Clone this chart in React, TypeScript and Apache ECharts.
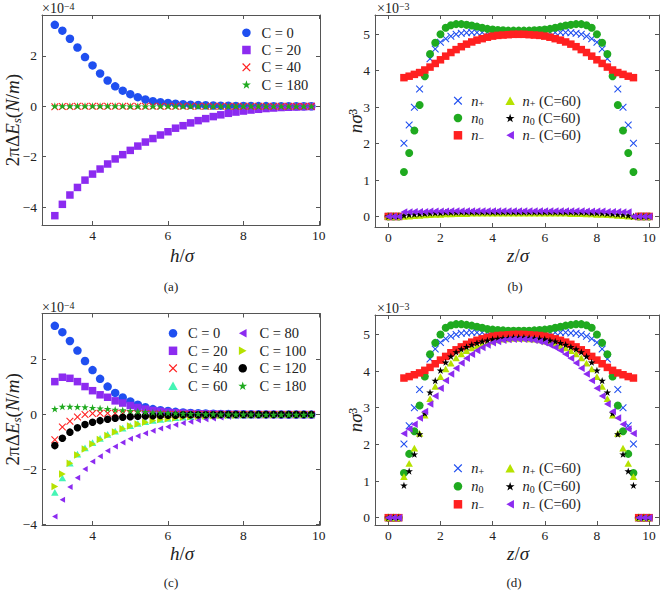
import React, { useEffect, useRef } from 'react';
import * as echarts from 'echarts';

// ---------- data ----------
const hVals = [3.0,3.2,3.4,3.6,3.8,4.0,4.2,4.4,4.6,4.8,5.0,5.2,5.4,5.6,5.8,6.0,6.2,6.4,6.6,6.8,7.0,7.2,7.4,7.6,7.8,8.0,8.2,8.4,8.6,8.8,9.0,9.2,9.4,9.6,9.8];

// panel (a) and (c), units of 1e-4 N/m
const eC0 = [3.23,3.00,2.68,2.33,1.95,1.62,1.30,1.02,0.79,0.62,0.48,0.36,0.27,0.20,0.16,0.13,0.10,0.08,0.06,0.05,0.04,0.03,0.025,0.02,0.015,0.012,0.01,0.008,0.006,0.005,0.004,0.003,0.002,0.001,0];
const eC20a = [-4.34,-3.89,-3.52,-3.22,-2.93,-2.69,-2.49,-2.29,-2.09,-1.92,-1.75,-1.58,-1.42,-1.28,-1.14,-1.01,-0.87,-0.77,-0.66,-0.57,-0.49,-0.41,-0.34,-0.28,-0.23,-0.19,-0.15,-0.12,-0.09,-0.07,-0.05,-0.04,-0.03,-0.02,-0.01];
const eC40a = [-0.02,-0.01,-0.01,0,0,0,0,0,0,0,0,0,0,0,0,0,0,0,0,0,0,0,0,0,0,0,0,0,0,0,0,0,0,0,0];
const eC180a = [0.01,0.01,0.01,0.01,0.01,0.01,0.01,0.01,0.01,0.01,0,0,0,0,0,0,0,0,0,0,0,0,0,0,0,0,0,0,0,0,0,0,0,0,0];

const eC20c = [1.20,1.36,1.32,1.20,1.02,0.87,0.72,0.63,0.50,0.42,0.33,0.26,0.20,0.15,0.12,0.09,0.07,0.05,0.04,0.03,0.025,0.02,0.015,0.01,0.008,0.006,0.005,0.004,0.003,0.002,0.002,0.001,0.001,0,0];
const eC40c = [-0.92,-0.45,-0.24,-0.09,0.00,0.04,0.05,0.05,0.05,0.04,0.04,0.03,0.03,0.02,0.02,0.01,0.01,0.01,0.01,0.01,0,0,0,0,0,0,0,0,0,0,0,0,0,0,0];
const eC60c = [-2.83,-2.30,-1.77,-1.44,-1.21,-1.02,-0.87,-0.72,-0.60,-0.49,-0.40,-0.32,-0.26,-0.21,-0.17,-0.14,-0.11,-0.09,-0.07,-0.05,-0.04,-0.03,-0.02,-0.02,-0.01,-0.01,-0.01,-0.005,-0.005,0,0,0,0,0,0];
const eC80c = [-3.71,-3.10,-2.64,-2.30,-1.98,-1.71,-1.52,-1.32,-1.16,-1.02,-0.88,-0.78,-0.68,-0.59,-0.51,-0.44,-0.37,-0.31,-0.26,-0.21,-0.17,-0.14,-0.11,-0.08,-0.06,-0.05,-0.04,-0.03,-0.02,-0.02,-0.01,-0.01,-0.01,-0.005,0];
const eC100c = [-2.62,-2.16,-1.77,-1.47,-1.25,-1.07,-0.91,-0.76,-0.63,-0.52,-0.42,-0.34,-0.28,-0.22,-0.18,-0.15,-0.12,-0.10,-0.08,-0.06,-0.05,-0.04,-0.03,-0.02,-0.02,-0.01,-0.01,-0.01,-0.005,-0.005,0,0,0,0,0];
const eC120c = [-1.13,-0.86,-0.64,-0.48,-0.36,-0.28,-0.22,-0.17,-0.13,-0.10,-0.08,-0.06,-0.05,-0.04,-0.03,-0.02,-0.02,-0.01,-0.01,-0.01,-0.005,-0.005,0,0,0,0,0,0,0,0,0,0,0,0,0];
const eC180c = [0.21,0.29,0.29,0.28,0.27,0.25,0.23,0.21,0.18,0.16,0.14,0.12,0.10,0.08,0.07,0.06,0.05,0.04,0.03,0.03,0.02,0.02,0.01,0.01,0.01,0.005,0.005,0,0,0,0,0,0,0,0];

// panel (b) and (d), units of 1e-3
const zVals = [0,0.2,0.4,0.6,0.8,1,1.2,1.4,1.6,1.8,2,2.2,2.4,2.6,2.8,3,3.2,3.4,3.6,3.8,4,4.2,4.4,4.6,4.8,5,5.2,5.4,5.6,5.8,6,6.2,6.4,6.6,6.8,7,7.2,7.4,7.6,7.8,8,8.2,8.4,8.6,8.8,9,9.2,9.4,9.6,9.8,10];

const nPlus = [0,0,0,2.01,2.51,3.00,3.50,3.95,4.33,4.60,4.78,4.88,4.95,5.00,5.03,5.04,5.05,5.05,5.05,5.05,5.05,5.05,5.05,5.05,5.05,5.05,5.05,5.05,5.05,5.05,5.05,5.05,5.05,5.05,5.05,5.04,5.03,5.00,4.95,4.88,4.78,4.60,4.33,3.95,3.50,3.00,2.51,2.01,0,0,0];
const nZero = [0,0,0,1.22,1.74,2.36,3.06,3.85,4.46,4.77,5.00,5.18,5.25,5.28,5.28,5.26,5.24,5.21,5.18,5.15,5.13,5.12,5.11,5.10,5.10,5.10,5.10,5.10,5.11,5.12,5.13,5.15,5.18,5.21,5.24,5.26,5.28,5.28,5.25,5.18,5.00,4.77,4.46,3.85,3.06,2.36,1.74,1.22,0,0,0];
const nMinus = [0,0,0,3.81,3.85,3.90,3.95,4.02,4.10,4.20,4.30,4.40,4.50,4.58,4.66,4.73,4.79,4.84,4.88,4.92,4.95,4.97,4.98,4.99,5.00,5.00,5.00,4.99,4.98,4.97,4.95,4.92,4.88,4.84,4.79,4.73,4.66,4.58,4.50,4.40,4.30,4.20,4.10,4.02,3.95,3.90,3.85,3.81,0,0,0];

const nPlus60b = [0,0,0,0.00,0.01,0.02,0.03,0.04,0.05,0.06,0.06,0.07,0.07,0.08,0.08,0.08,0.09,0.09,0.09,0.09,0.09,0.09,0.09,0.09,0.09,0.09,0.09,0.09,0.09,0.09,0.09,0.09,0.09,0.09,0.09,0.08,0.08,0.08,0.07,0.07,0.06,0.06,0.05,0.04,0.03,0.02,0.01,0.00,0,0,0];
const nZero60b = [0,0,0,0.03,0.05,0.06,0.07,0.08,0.09,0.10,0.10,0.11,0.11,0.11,0.12,0.12,0.12,0.12,0.12,0.12,0.12,0.12,0.12,0.12,0.12,0.12,0.12,0.12,0.12,0.12,0.12,0.12,0.12,0.12,0.12,0.12,0.11,0.11,0.11,0.10,0.10,0.09,0.08,0.07,0.06,0.05,0.03,0,0,0,0];
const nMinus60b = [0,0,0,0.12,0.12,0.13,0.13,0.13,0.14,0.14,0.14,0.14,0.15,0.15,0.15,0.15,0.15,0.15,0.15,0.15,0.15,0.15,0.15,0.15,0.15,0.15,0.15,0.15,0.15,0.15,0.15,0.15,0.15,0.15,0.15,0.15,0.15,0.15,0.14,0.14,0.14,0.14,0.13,0.13,0.13,0.12,0.12,0,0,0,0];

const nPlus60d = [0,0,0,1.12,1.48,1.90,2.30,2.80,3.25,3.58,3.85,4.06,4.22,4.36,4.47,4.56,4.63,4.69,4.74,4.78,4.82,4.85,4.87,4.88,4.89,4.89,4.89,4.88,4.87,4.85,4.82,4.78,4.74,4.69,4.63,4.56,4.47,4.36,4.22,4.06,3.85,3.58,3.25,2.80,2.30,1.90,1.48,1.12,0,0,0];
const nZero60d = [0,0,0,0.88,1.27,1.73,2.28,2.85,3.42,3.74,4.02,4.24,4.40,4.52,4.60,4.66,4.72,4.77,4.81,4.84,4.87,4.89,4.90,4.91,4.92,4.92,4.92,4.91,4.90,4.89,4.87,4.84,4.81,4.77,4.72,4.66,4.60,4.52,4.40,4.24,4.02,3.74,3.42,2.85,2.28,1.73,1.27,0.88,0,0,0];
const nMinus60d = [0,0,0,2.30,2.42,2.55,2.72,2.90,3.10,3.32,3.53,3.74,3.92,4.08,4.22,4.35,4.46,4.56,4.64,4.71,4.77,4.81,4.84,4.86,4.87,4.87,4.87,4.86,4.84,4.81,4.77,4.71,4.64,4.56,4.46,4.35,4.22,4.08,3.92,3.74,3.53,3.32,3.10,2.90,2.72,2.55,2.42,2.30,0,0,0];

const hTicks = [4, 6, 8, 10];
const eTicksA = [-4, -2, 0, 2];
const eTicksC = [-4, -2, 0, 2];
const zTicks = [0, 2, 4, 6, 8, 10];
const nTicks = [0, 1, 2, 3, 4, 5];

// ---------- style ----------
const FONT = 'Liberation Serif';
const FRAME = '#555555';
const INK = '#222222';
const BLUE = '#1f4ff0';
const PURPLE = '#8c2bf0';
const RED = '#ff2020';
const GREEN = '#1faa1f';
const AQUA = '#45f5b5';
const YGREEN = '#b6e200';
const BLACK = '#000000';

const SYM_X = 'path://M0,1L1,0L5,4L9,0L10,1L6,5L10,9L9,10L5,6L1,10L0,9L4,5Z';
const SYM_SQ = 'path://M0,0L10,0L10,10L0,10Z';
const SYM_STAR = 'path://M50,2L61.8,38.2L99,38.2L68.9,60.1L80.4,96L50,73.9L19.6,96L31.1,60.1L1,38.2L38.2,38.2Z';
const SYM_TU = 'path://M5,0L10,9L0,9Z';
const SYM_TL = 'path://M0,5L9,0L9,10Z';
const SYM_TR = 'path://M10,5L1,0L1,10Z';

const fmt = (v: number) => (v < 0 ? '\u2212' + Math.abs(v) : String(v));

const richName = {
  r: { fontFamily: FONT, fontSize: 19, lineHeight: 20, color: INK },
  i: { fontFamily: FONT, fontSize: 19, lineHeight: 20, fontStyle: 'italic', color: INK },
  s: { fontFamily: FONT, fontSize: 13, lineHeight: 11, fontStyle: 'italic', color: INK, verticalAlign: 'bottom' },
};

const tickLabel = (ticks: number[], margin: number) => ({
  show: true, customValues: ticks, formatter: fmt, color: INK, fontFamily: FONT, fontSize: 13.5, margin,
});

function xAxes(gridIndex: number, min: number, max: number, ticks: number[]) {
  const base = {
    type: 'value', gridIndex, min, max,
    axisLine: { show: true, onZero: false, lineStyle: { color: FRAME, width: 1 } },
    axisTick: { show: true, inside: true, length: 4, customValues: ticks, lineStyle: { color: FRAME } },
    splitLine: { show: false },
  };
  return [
    { ...base, position: 'bottom', axisLabel: tickLabel(ticks, 3) },
    { ...base, position: 'top', axisLabel: { show: false } },
  ];
}

function yAxes(gridIndex: number, min: number, max: number, ticks: number[], name: string, gap: number) {
  const base = {
    type: 'value', gridIndex, min, max,
    axisLine: { show: true, onZero: false, lineStyle: { color: FRAME, width: 1 } },
    axisTick: { show: true, inside: true, length: 4, customValues: ticks, lineStyle: { color: FRAME } },
    splitLine: { show: false },
  };
  return [
    {
      ...base, position: 'left', axisLabel: tickLabel(ticks, 5),
      name, nameLocation: 'middle', nameGap: gap, nameMoveOverlap: false,
      nameTextStyle: { fontFamily: FONT, rich: richName },
    },
    { ...base, position: 'right', axisLabel: { show: false } },
  ];
}

function sc(name: string, xs: number[], ys: number[], panel: number, symbol: string, size: number, color: string) {
  return {
    type: 'scatter', name, xAxisIndex: panel * 2, yAxisIndex: panel * 2,
    data: xs.map((x, i) => [x, ys[i]]),
    symbol, symbolSize: size, symbolKeepAspect: true,
    itemStyle: { color, opacity: 1 },
    silent: true,
  };
}

const legendRich = {
  it: { fontFamily: FONT, fontSize: 14.5, lineHeight: 16, fontStyle: 'italic', color: INK },
  r: { fontFamily: FONT, fontSize: 14.5, lineHeight: 16, color: INK },
  sb: { fontFamily: FONT, fontSize: 10, lineHeight: 9, color: INK, verticalAlign: 'bottom' },
};
const legendLabels: Record<string, string> = {
  'n+': '{it|n}{sb|+}',
  'n0': '{it|n}{sb|0}',
  'n-': '{it|n}{sb|\u2212}',
  'n+ (C=60)': '{it|n}{sb|+}{r| (C=60)}',
  'n0 (C=60)': '{it|n}{sb|0}{r| (C=60)}',
  'n- (C=60)': '{it|n}{sb|\u2212}{r| (C=60)}',
};

function legend(left: number, top: number, w: number, gap: number, data: string[]) {
  return {
    orient: 'vertical', left, top, padding: 0, itemWidth: w, itemHeight: 8.5, itemGap: gap,
    data, selectedMode: false,
    formatter: (name: string) => legendLabels[name] ?? '{r|' + name + '}',
    textStyle: { fontFamily: FONT, fontSize: 14.5, lineHeight: 16, color: INK, rich: legendRich },
  };
}

const gRich = {
  r: { fontFamily: FONT, fontSize: 14, color: INK },
  e: { fontFamily: FONT, fontSize: 10, color: INK, verticalAlign: 'top', lineHeight: 14 },
  nr: { fontFamily: FONT, fontSize: 19, lineHeight: 20, color: INK },
  ni: { fontFamily: FONT, fontSize: 19, lineHeight: 20, fontStyle: 'italic', color: INK },
};

function txt(x: number, y: number, text: string, size: number, align = 'center') {
  return {
    type: 'text', x, y, silent: true,
    style: { text, fontFamily: FONT, fontSize: size, fill: INK, align, verticalAlign: 'middle', rich: gRich },
  };
}

export default function App() {
  const ref = useRef<HTMLDivElement>(null);
  useEffect(() => {
    document.body.style.margin = '0';
    const chart = echarts.init(ref.current!, null, { renderer: 'svg' });
    const yNameE = '{r|2\u03c0\u0394}{i|E}{s|s}{r|(}{i|N}{r|/}{i|m}{r|)}';
    const yNameN = '{i|n\u03c3}{r|\u00b3}';
    const xNameH = '{ni|h}{nr|/}{ni|\u03c3}';
    const xNameZ = '{ni|z}{nr|/}{ni|\u03c3}';
    const option = {
      animation: false,
      backgroundColor: '#ffffff',
      textStyle: { fontFamily: FONT },
      grid: [
        { left: 42, top: 15, width: 278, height: 210, outerBoundsMode: 'none', containLabel: false },
        { left: 375, top: 15, width: 284, height: 212, outerBoundsMode: 'none', containLabel: false },
        { left: 42, top: 313.5, width: 278, height: 211.5, outerBoundsMode: 'none', containLabel: false },
        { left: 375, top: 315, width: 284, height: 210, outerBoundsMode: 'none', containLabel: false },
      ],
      xAxis: [
        ...xAxes(0, 2.66, 10.03, hTicks),
        ...xAxes(1, -0.51, 10.38, zTicks),
        ...xAxes(2, 2.66, 10.03, hTicks),
        ...xAxes(3, -0.51, 10.38, zTicks),
      ],
      yAxis: [
        ...yAxes(0, -4.71, 3.62, eTicksA, yNameE, 19.5),
        ...yAxes(1, -0.29, 5.53, nTicks, yNameN, 10),
        ...yAxes(2, -4.02, 3.68, eTicksC, yNameE, 19.5),
        ...yAxes(3, -0.2, 5.53, nTicks, yNameN, 10),
      ],
      legend: [
        legend(242, 24.7, 20, 1.3, ['C = 0', 'C = 20', 'C = 40', 'C = 180']),
        legend(453.7, 92.7, 16.6, 1.3, ['n+', 'n0', 'n-']),
        legend(505.4, 92.7, 14.6, 1.3, ['n+ (C=60)', 'n0 (C=60)', 'n- (C=60)']),
        legend(168.3, 325.3, 20, 1.5, ['C = 0', 'C = 20', 'C = 40', 'C = 60']),
        legend(238.3, 325.3, 23.4, 1.5, ['C = 80', 'C = 100', 'C = 120', 'C = 180']),
        legend(453.7, 460.3, 16.6, 2, ['n+', 'n0', 'n-']),
        legend(505.4, 460.3, 14.6, 2, ['n+ (C=60)', 'n0 (C=60)', 'n- (C=60)']),
      ],
      graphic: [
        txt(42, 8, '{r|\u00d710}{e|\u22124}', 14, 'left'),
        txt(377, 8, '{r|\u00d710}{e|\u22123}', 14, 'left'),
        txt(42, 307, '{r|\u00d710}{e|\u22124}', 14, 'left'),
        txt(377, 308, '{r|\u00d710}{e|\u22123}', 14, 'left'),
        txt(182, 255, xNameH, 19),
        txt(518, 255, xNameZ, 19),
        txt(182, 553.5, xNameH, 19),
        txt(518, 553.5, xNameZ, 19),
        txt(171, 286, '(a)', 13),
        txt(515, 286, '(b)', 13),
        txt(171, 582, '(c)', 13),
        txt(514, 582, '(d)', 13),
      ],
      series: [
        // (a)
        sc('C = 0', hVals, eC0, 0, 'circle', 8.5, BLUE),
        sc('C = 20', hVals, eC20a, 0, SYM_SQ, 7.5, PURPLE),
        sc('C = 40', hVals, eC40a, 0, SYM_X, 7.5, RED),
        sc('C = 180', hVals, eC180a, 0, SYM_STAR, 8, GREEN),
        // (b)
        sc('n+', zVals, nPlus, 1, SYM_X, 7.5, BLUE),
        sc('n0', zVals, nZero, 1, 'circle', 8, GREEN),
        sc('n-', zVals, nMinus, 1, SYM_SQ, 7.5, RED),
        sc('n+ (C=60)', zVals, nPlus60b, 1, SYM_TU, 7.5, YGREEN),
        sc('n0 (C=60)', zVals, nZero60b, 1, SYM_STAR, 7.5, BLACK),
        sc('n- (C=60)', zVals, nMinus60b, 1, SYM_TL, 7.5, PURPLE),
        // (c)
        sc('C = 0', hVals, eC0, 2, 'circle', 8.5, BLUE),
        sc('C = 20', hVals, eC20c, 2, SYM_SQ, 7.5, PURPLE),
        sc('C = 40', hVals, eC40c, 2, SYM_X, 7.5, RED),
        sc('C = 60', hVals, eC60c, 2, SYM_TU, 7.5, AQUA),
        sc('C = 80', hVals, eC80c, 2, SYM_TL, 6, PURPLE),
        sc('C = 100', hVals, eC100c, 2, SYM_TR, 7.5, YGREEN),
        sc('C = 120', hVals, eC120c, 2, 'circle', 7.5, BLACK),
        sc('C = 180', hVals, eC180c, 2, SYM_STAR, 7.5, GREEN),
        // (d)
        sc('n+', zVals, nPlus, 3, SYM_X, 7.5, BLUE),
        sc('n0', zVals, nZero, 3, 'circle', 8, GREEN),
        sc('n-', zVals, nMinus, 3, SYM_SQ, 7.5, RED),
        sc('n+ (C=60)', zVals, nPlus60d, 3, SYM_TU, 7.5, YGREEN),
        sc('n0 (C=60)', zVals, nZero60d, 3, SYM_STAR, 7.5, BLACK),
        sc('n- (C=60)', zVals, nMinus60d, 3, SYM_TL, 7.5, PURPLE),
      ],
    };
    chart.setOption(option as any);
    return () => chart.dispose();
  }, []);
  return <div ref={ref} style={{ width: 661, height: 594 }} />;
}
